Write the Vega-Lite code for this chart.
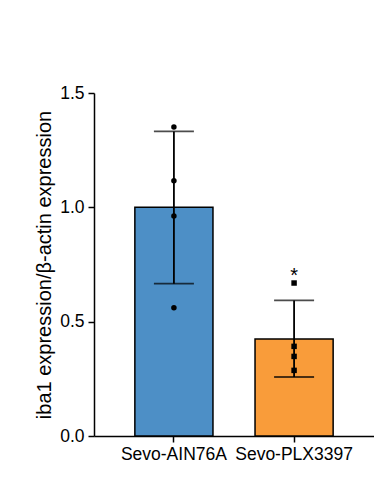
{
  "$schema": "https://vega.github.io/schema/vega-lite/v6.json",
  "width": 280,
  "height": 343,
  "autosize": {"type": "none"},
  "padding": {"left": 94, "top": 93, "right": 0, "bottom": 43},
  "background": "white",
  "config": {
    "view": {"stroke": null},
    "font": "Liberation Sans",
    "axis": {"grid": false, "domainColor": "black", "tickColor": "black", "labelColor": "black", "titleColor": "black", "domainWidth": 1.5, "tickWidth": 1.5, "labelFont": "Liberation Sans", "titleFont": "Liberation Sans"}
  },
  "datasets": {
    "bars": [
      {"group": "Sevo-AIN76A", "mean": 1.0, "lo": 0.666, "hi": 1.332},
      {"group": "Sevo-PLX3397", "mean": 0.424, "lo": 0.258, "hi": 0.593}
    ],
    "points": [
      {"group": "Sevo-AIN76A", "value": 1.351},
      {"group": "Sevo-AIN76A", "value": 1.116},
      {"group": "Sevo-AIN76A", "value": 0.962},
      {"group": "Sevo-AIN76A", "value": 0.561},
      {"group": "Sevo-PLX3397", "value": 0.669},
      {"group": "Sevo-PLX3397", "value": 0.392},
      {"group": "Sevo-PLX3397", "value": 0.348},
      {"group": "Sevo-PLX3397", "value": 0.287}
    ],
    "sig": [
      {"group": "Sevo-PLX3397", "y": 0.7, "label": "*"}
    ]
  },
  "encoding": {
    "x": {
      "field": "group", "type": "nominal", "sort": null,
      "scale": {"paddingInner": 0.35, "paddingOuter": 0.34},
      "axis": {"title": null, "labelAngle": 0, "labelFontSize": 17.5, "tickSize": 6, "labelPadding": 3}
    }
  },
  "layer": [
    {
      "data": {"name": "bars"},
      "mark": {"type": "bar", "stroke": "black", "strokeWidth": 1.5},
      "encoding": {
        "y": {
          "field": "mean", "type": "quantitative",
          "scale": {"domain": [0, 1.5], "nice": false},
          "axis": {"title": "iba1 expression/β-actin expression", "values": [0, 0.5, 1.0, 1.5], "format": ".1f", "labelFontSize": 17.5, "titleFontSize": 20, "titleFontWeight": "normal", "tickSize": 6, "labelPadding": 4, "titlePadding": 5}
        },
        "color": {
          "field": "group", "type": "nominal", "legend": null,
          "scale": {"domain": ["Sevo-AIN76A", "Sevo-PLX3397"], "range": ["#4d8fc6", "#f99c3a"]}
        }
      }
    },
    {
      "data": {"name": "bars"},
      "mark": {"type": "rule", "color": "black", "strokeWidth": 1.8},
      "encoding": {
        "y": {"field": "lo", "type": "quantitative"},
        "y2": {"field": "hi"}
      }
    },
    {
      "data": {"name": "bars"},
      "mark": {"type": "tick", "color": "black", "size": 40, "thickness": 1.8, "orient": "horizontal"},
      "encoding": {"y": {"field": "lo", "type": "quantitative"}}
    },
    {
      "data": {"name": "bars"},
      "mark": {"type": "tick", "color": "black", "size": 40, "thickness": 1.8, "orient": "horizontal"},
      "encoding": {"y": {"field": "hi", "type": "quantitative"}}
    },
    {
      "data": {"name": "points"},
      "mark": {"type": "point", "filled": true, "color": "black", "opacity": 1, "size": 30},
      "encoding": {
        "y": {"field": "value", "type": "quantitative"},
        "shape": {
          "field": "group", "type": "nominal", "legend": null,
          "scale": {"domain": ["Sevo-AIN76A", "Sevo-PLX3397"], "range": ["circle", "square"]}
        }
      }
    },
    {
      "data": {"name": "sig"},
      "mark": {"type": "text", "fontSize": 20, "color": "black", "baseline": "middle", "font": "Liberation Sans"},
      "encoding": {
        "y": {"field": "y", "type": "quantitative"},
        "text": {"field": "label"}
      }
    }
  ]
}
